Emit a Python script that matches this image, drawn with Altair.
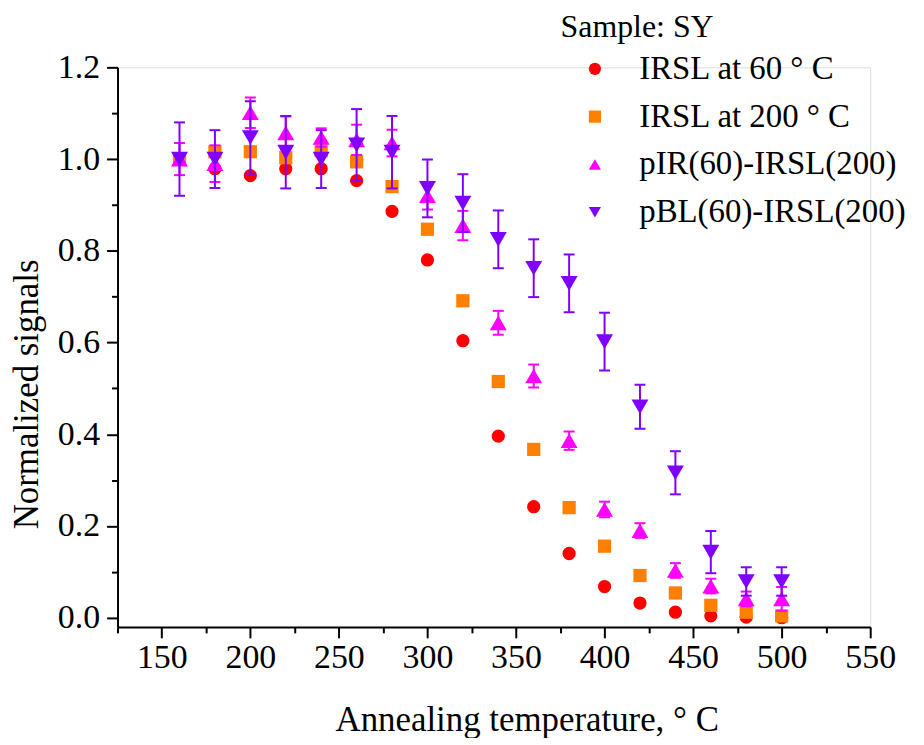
import altair as alt
import pandas as pd

series = ["IRSL at 60 ° C", "IRSL at 200 ° C", "pIR(60)-IRSL(200)", "pBL(60)-IRSL(200)"]
colors = ["#FF0000", "#FF8000", "#FF00FF", "#8000FF"]
shapes = ["circle", "square", "triangle-up", "triangle-down"]

temps = [160, 180, 200, 220, 240, 260, 280, 300, 320, 340, 360, 380, 400, 420, 440, 460, 480, 500]
irsl60 = [1.0, 0.979, 0.964, 0.979, 0.979, 0.953, 0.886, 0.780, 0.604, 0.396, 0.242, 0.140,
          0.068, 0.032, 0.012, 0.004, 0.0015, 0.0]
irsl200 = [1.0, 1.016, 1.016, 1.003, 1.018, 0.994, 0.940, 0.847, 0.691, 0.515, 0.367, 0.240,
           0.156, 0.092, 0.054, 0.027, 0.012, 0.004]
pir = [1.0, 0.99, 1.101, 1.057, 1.047, 1.042, 1.035, 0.92, 0.855, 0.643, 0.527, 0.386,
       0.236, 0.19, 0.103, 0.069, 0.041, 0.041]
pir_err = [0.035, 0.04, 0.033, 0.036, 0.02, 0.033, 0.029, 0.03, 0.032, 0.026, 0.025, 0.02,
           0.017, 0.016, 0.016, 0.016, 0.016, 0.026]
pbl = [1.0, 1.0, 1.047, 1.015, 1.0, 1.031, 1.015, 0.936, 0.904, 0.825, 0.762, 0.729,
       0.602, 0.46, 0.316, 0.143, 0.079, 0.079]
pbl_err = [0.08, 0.063, 0.079, 0.079, 0.063, 0.078, 0.079, 0.063, 0.063, 0.063, 0.063, 0.063,
           0.063, 0.048, 0.047, 0.046, 0.031, 0.031]

# major ticks every 50 / 0.2, minor ticks halfway
x_ticks = [125, 150, 175, 200, 225, 250, 275, 300, 325, 350, 375, 400, 425, 450, 475, 500, 525, 550]
y_ticks = [0.0, 0.1, 0.2, 0.3, 0.4, 0.5, 0.6, 0.7, 0.8, 0.9, 1.0, 1.1, 1.2]

values = [irsl60, irsl200, pir, pbl]
errors = [None, None, pir_err, pbl_err]
rows = []
for s, vals, errs in zip(series, values, errors):
    for i, (t, v) in enumerate(zip(temps, vals)):
        e = errs[i] if errs else 0.0
        rows.append({"T": t, "value": v, "series": s, "lo": v - e, "hi": v + e})
df = pd.DataFrame(rows)

FONT = "Liberation Serif"
xs = alt.Scale(domain=[125, 550], nice=False, zero=False)
ys = alt.Scale(domain=[-0.02, 1.2], nice=False, zero=False)

x_major_test = "datum.value % 50 == 0"
y_major_test = "round(datum.value * 10) % 2 == 0"

x_axis = alt.Axis(values=x_ticks, title="Annealing temperature, ° C", grid=False, orient="bottom",
                  labelExpr=f"{x_major_test} ? datum.label : ''", labelOverlap=False, labelFlush=False,
                  tickSize={"condition": {"test": x_major_test, "value": 11}, "value": 6},
                  tickWidth=2, tickColor="black", domainColor="black", domainWidth=2,
                  labelFont=FONT, labelFontSize=34, labelColor="black", labelPadding=3,
                  titleFont=FONT, titleFontSize=35, titleFontWeight="normal", titleColor="black",
                  titleX=411, titleY=104, titleBaseline="alphabetic")
y_axis = alt.Axis(values=y_ticks, title="Normalized signals", grid=False, orient="left",
                  labelExpr=f"{y_major_test} ? format(datum.value, '.1f') : ''", labelOverlap=False,
                  labelFlush=False,
                  tickSize={"condition": {"test": y_major_test, "value": 11}, "value": 6},
                  tickWidth=2, tickColor="black", domainColor="black", domainWidth=2,
                  labelFont=FONT, labelFontSize=34, labelColor="black", labelPadding=7,
                  titleFont=FONT, titleFontSize=35, titleFontWeight="normal", titleColor="black",
                  titleX=-80, titleY=328, titleBaseline="alphabetic")

legend = alt.Legend(title="Sample: SY", orient="none", legendX=445, legendY=-55,
                    titleFont=FONT, titleFontSize=32, titleFontWeight="normal", titleColor="black",
                    titlePadding=8, labelFont=FONT, labelFontSize=33, labelColor="black",
                    labelLimit=0, symbolSize=150, symbolOffset=18, labelOffset=28, rowPadding=14,
                    symbolStrokeWidth=0)
color = alt.Color("series:N", scale=alt.Scale(domain=series, range=colors), legend=legend)
shape = alt.Shape("series:N", scale=alt.Scale(domain=series, range=shapes), legend=legend)

base = alt.Chart(df)
layers = []
for i, s in enumerate(series):
    sub = base.transform_filter(alt.datum.series == s)
    size = 177 if i < 2 else 290
    pts = sub.mark_point(filled=True, size=size, opacity=1, strokeWidth=0).encode(
        x=alt.X("T:Q", scale=xs, axis=x_axis),
        y=alt.Y("value:Q", scale=ys, axis=y_axis),
        color=color, shape=shape)
    layers.append(pts)
    if errors[i] is not None:
        c = colors[i]
        bar = sub.mark_rule(strokeWidth=2, color=c).encode(
            x="T:Q", y="lo:Q", y2="hi:Q")
        cap_lo = sub.mark_tick(orient="horizontal", size=11, thickness=2, color=c, opacity=1).encode(
            x="T:Q", y="lo:Q")
        cap_hi = sub.mark_tick(orient="horizontal", size=11, thickness=2, color=c, opacity=1).encode(
            x="T:Q", y="hi:Q")
        layers += [bar, cap_lo, cap_hi]

chart = alt.layer(*layers).properties(
    width=756, height=562,
    padding={"left": 110, "top": 58, "right": 46, "bottom": 110},
    autosize=alt.AutoSizeParams(type="none"),
).configure_view(stroke=None).configure(font=FONT, background="white")

chart.save("out.html", embed_options={"renderer": "svg", "actions": False})
